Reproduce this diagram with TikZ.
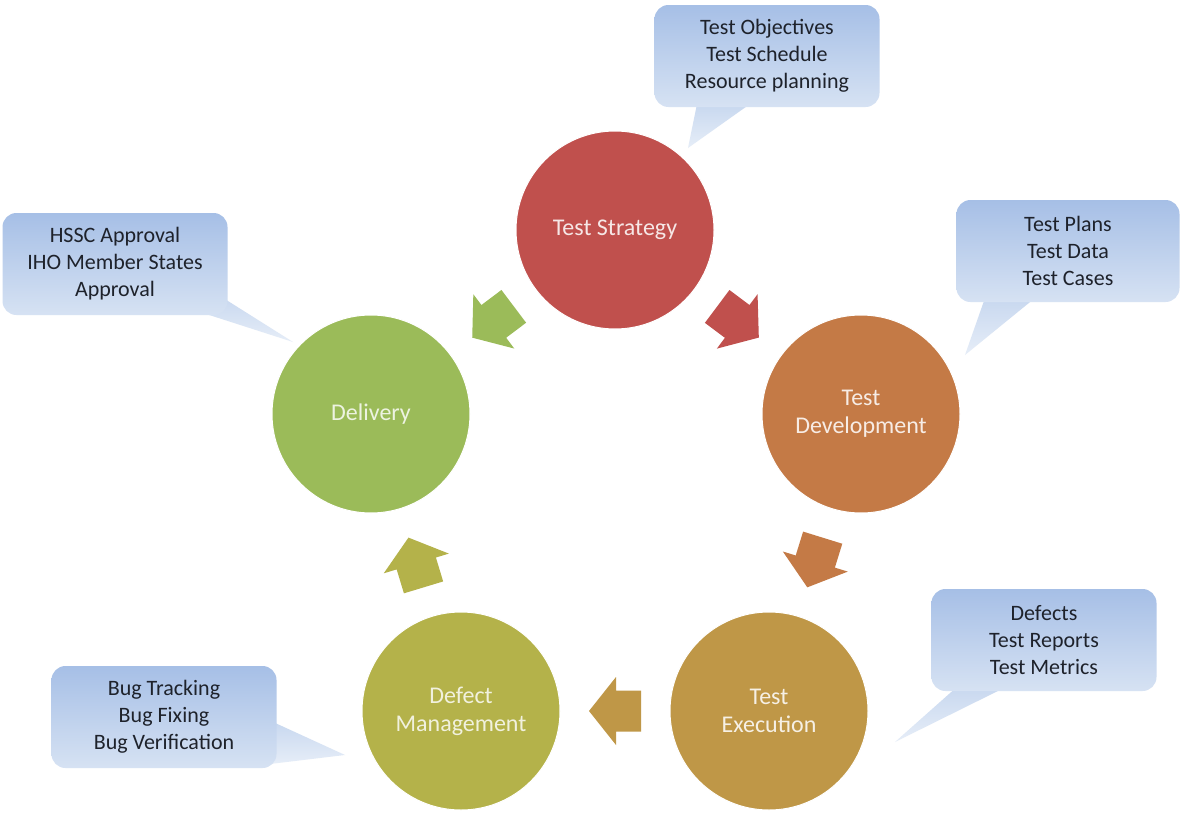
\documentclass[tikz,border=0pt]{standalone}
\usepackage{fontspec}
\setmainfont{Carlito}
\usetikzlibrary{calc}
\definecolor{cStrat}{HTML}{C0504D}
\definecolor{cDevel}{HTML}{C47A46}
\definecolor{cExec}{HTML}{BF9747}
\definecolor{cDefect}{HTML}{B4B24A}
\definecolor{cDeliv}{HTML}{9BBB59}
\definecolor{calloutTop}{HTML}{A6BFE6}
\definecolor{calloutBot}{HTML}{D6E2F3}
\definecolor{calloutText}{HTML}{1E222B}
\tikzset{
  phase/.style={circle, minimum size=198pt, inner sep=0pt, draw=white, line width=1pt,
    font=\fontsize{24}{28}\selectfont, align=center},
  callout/.style={rectangle, rounded corners=14pt, minimum width=225pt, minimum height=102pt,
    inner sep=0pt, top color=calloutTop, bottom color=calloutBot,
    font=\fontsize{22}{27}\selectfont, align=center, text=calloutText},
  pointer/.style={top color=calloutBot!70!calloutTop, bottom color=calloutBot!60!white},
  % block arrow pointing along local +x, centred on the origin
  pics/flowarrow/.style={code={
    \fill[#1] (-26,-20.5) -- (-1,-20.5) -- (-1,-34) -- (26,0) -- (-1,34)
      -- (-1,20.5) -- (-26,20.5) -- cycle;
  }}
}
% block arrow half-way between two phases, aimed from the first to the second
\newcommand{\flowbetween}[3]{%
  \path let \p1=($(#2)-(#1)$), \n1={atan2(\y1,\x1)} in
    ($(#1)!0.5!(#2)$) pic[rotate=\n1] {flowarrow=#3};}
\begin{document}
\begin{tikzpicture}[x=1pt,y=-1pt]
\useasboundingbox (0,0) rectangle (1181,819);
\fill[white] (0,0) rectangle (1181,819);

% cycle phases
\node[phase, fill=cStrat, text=white!86!cStrat] (strat) at (615,230) {Test Strategy};
\node[phase, fill=cDevel, text=white!86!cDevel] (devel) at (861,414) {Test\\Development};
\node[phase, fill=cExec, text=white!86!cExec] (exec) at (769,711) {Test\\Execution};
\node[phase, fill=cDefect, text=white!82!cDefect] (defect) at (461,711) {Defect\\Management};
\node[phase, fill=cDeliv, text=white!82!cDeliv] (deliv) at (371,414) {Delivery};

% block arrows between phases
\flowbetween{strat}{devel}{cStrat}
\flowbetween{devel}{exec}{cDevel}
\flowbetween{exec}{defect}{cExec}
\flowbetween{defect}{deliv}{cDefect}
\flowbetween{strat}{deliv}{cDeliv}

% callout tails
\coordinate (tObj) at (688,148);
\coordinate (tDev) at (965,355);
\coordinate (tExe) at (895,742);
\coordinate (tDef) at (345,755);
\coordinate (tDel) at (293,342);
\shade[pointer] (697,104) -- (tObj) -- (750,104) -- cycle;
\shade[pointer] (985,298) -- (tDev) -- (1035,298) -- cycle;
\shade[pointer] (958,686) -- (tExe) -- (1008,686) -- cycle;
\shade[pointer] (273,722) -- (tDef) -- (270,764) -- cycle;
\shade[pointer] (220,296) -- (tDel) -- (203,313) -- cycle;

% callouts
\node[callout] (cObj) at (767,56) {Test Objectives\\Test Schedule\\Resource planning};
\node[callout, minimum width=223pt] (cDev) at (1068,251) {Test Plans\\Test Data\\Test Cases};
\node[callout] (cExe) at (1044,640) {Defects\\Test Reports\\Test Metrics};
\node[callout] (cDef) at (164,717) {Bug Tracking\\Bug Fixing\\Bug Verification};
\node[callout] (cDel) at (115,264) {HSSC Approval\\IHO Member States\\Approval};
\end{tikzpicture}
\end{document}
